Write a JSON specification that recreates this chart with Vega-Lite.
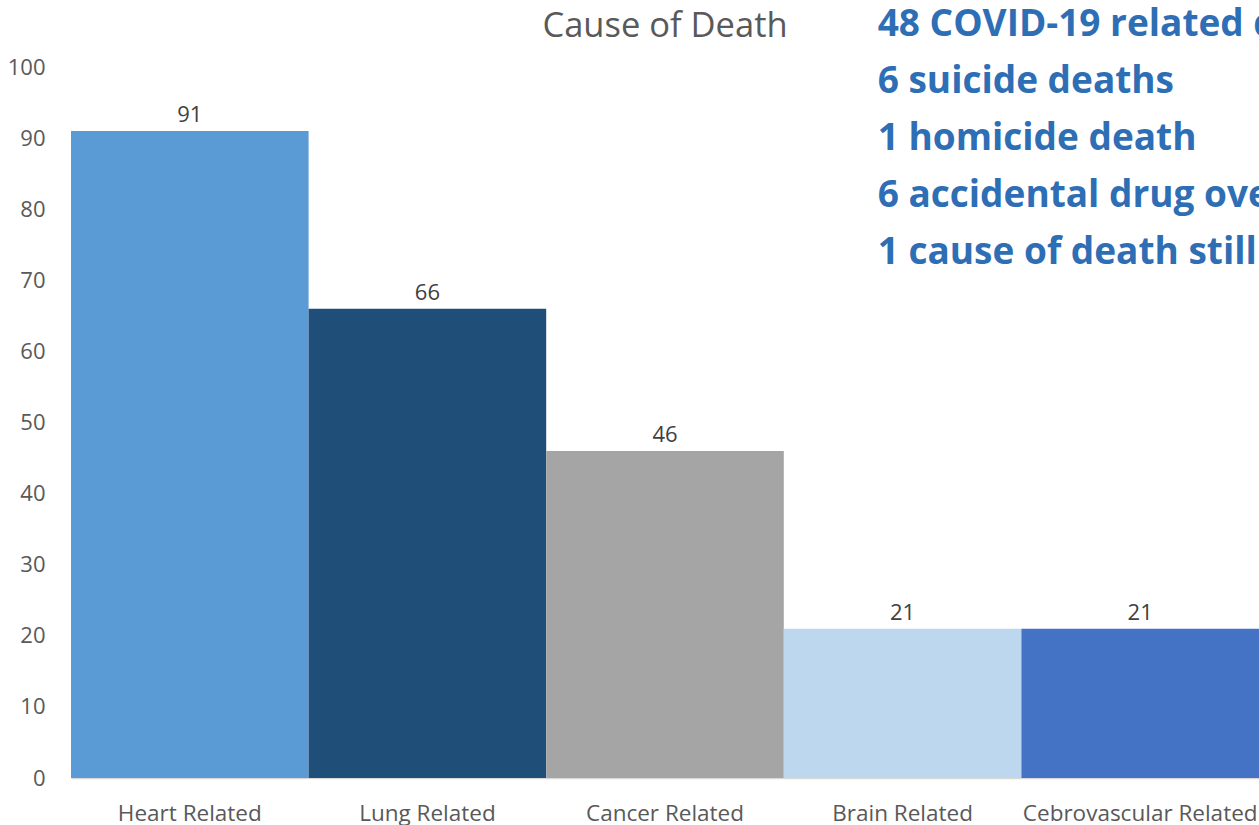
{
  "$schema": "https://vega.github.io/schema/vega-lite/v6.json",
  "width": 1188,
  "height": 711,
  "autosize": {"type": "none"},
  "padding": {"left": 71, "top": 67, "right": 0, "bottom": 47},
  "background": "white",
  "config": {"view": {"stroke": null}, "font": "Open Sans"},
  "title": {
    "text": "Cause of Death",
    "fontSize": 34.5,
    "fontWeight": "normal",
    "color": "#595959",
    "anchor": "middle",
    "frame": "group",
    "baseline": "alphabetic",
    "offset": 0,
    "dy": 65
  },
  "layer": [
    {
      "data": {
        "values": [
          {"cause": "Heart Related", "deaths": 91},
          {"cause": "Lung Related", "deaths": 66},
          {"cause": "Cancer Related", "deaths": 46},
          {"cause": "Brain Related", "deaths": 21},
          {"cause": "Cebrovascular Related", "deaths": 21}
        ]
      },
      "encoding": {
        "x": {
          "field": "cause",
          "type": "nominal",
          "sort": null,
          "scale": {"paddingInner": 0, "paddingOuter": 0},
          "axis": {
            "title": null,
            "labelAngle": 0,
            "ticks": false,
            "domainColor": "#D9D9D9",
            "domainWidth": 1.5,
            "labelFontSize": 22.5,
            "labelColor": "#595959",
            "labelPadding": 24,
            "labelLimit": 0,
            "labelOverlap": false,
            "labelBound": false
          }
        },
        "y": {
          "field": "deaths",
          "type": "quantitative",
          "scale": {"domain": [0, 100]},
          "axis": {
            "title": null,
            "values": [0, 10, 20, 30, 40, 50, 60, 70, 80, 90, 100],
            "grid": false,
            "domain": false,
            "ticks": false,
            "labelFontSize": 22,
            "labelColor": "#595959",
            "labelPadding": 26
          }
        }
      },
      "layer": [
        {
          "mark": {"type": "bar"},
          "encoding": {
            "color": {
              "field": "cause",
              "type": "nominal",
              "sort": null,
              "scale": {
                "domain": ["Heart Related", "Lung Related", "Cancer Related", "Brain Related", "Cebrovascular Related"],
                "range": ["#5B9BD5", "#1F4E79", "#A5A5A5", "#BDD7EE", "#4472C4"]
              },
              "legend": null
            }
          }
        },
        {
          "mark": {"type": "text", "baseline": "alphabetic", "dy": -9, "fontSize": 22, "color": "#404040"},
          "encoding": {"text": {"field": "deaths", "type": "quantitative"}}
        }
      ]
    },
    {
      "data": {
        "values": [
          {"line": 1, "note": "48 COVID-19 related deaths"},
          {"line": 2, "note": "6 suicide deaths"},
          {"line": 3, "note": "1 homicide death"},
          {"line": 4, "note": "6 accidental drug overdose deaths"},
          {"line": 5, "note": "1 cause of death still pending"}
        ]
      },
      "mark": {"type": "text", "align": "left", "baseline": "alphabetic", "fontSize": 37, "fontWeight": "bold", "color": "#2E6EB4"},
      "encoding": {
        "x": {"datum": 0.679, "type": "quantitative", "scale": {"domain": [0, 1]}, "axis": null},
        "y": {"field": "line", "type": "quantitative", "scale": {"domain": [1.54, 14.02], "reverse": true, "zero": false, "nice": false}, "axis": null},
        "text": {"field": "note", "type": "nominal"}
      }
    }
  ],
  "resolve": {"scale": {"x": "independent", "y": "independent", "color": "independent"}}
}
